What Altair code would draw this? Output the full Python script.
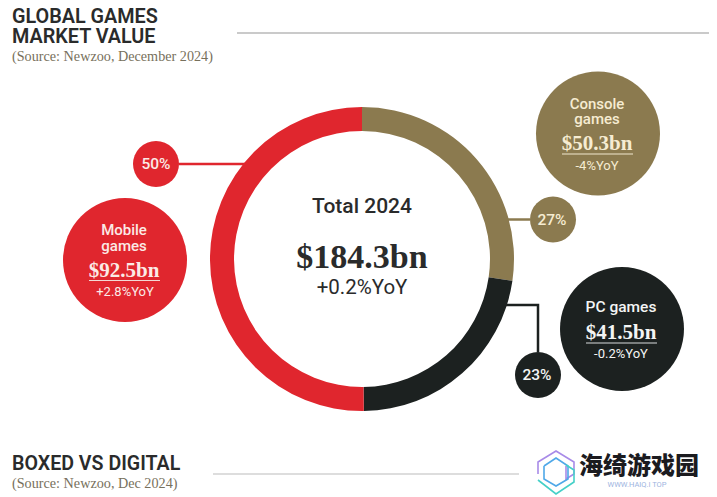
import altair as alt
import pandas as pd

FIG_W, FIG_H, M = 717, 497, 8
SANS = "Roboto"
SERIF = "Liberation Serif"
SRC = "Liberation Serif"
CJK = "Noto Sans CJK SC"

RED, GOLD, BLACK = "#e0262e", "#8b7a4f", "#1c2120"
DARK, SRC_C = "#2a2b2b", "#77705c"
ON_RED, ON_GOLD, ON_BLACK = "#fbeae6", "#f6ecd2", "#f4f5f4"

seg_names = ["Console games", "PC games", "Mobile games"]
seg_values = [50.3, 41.5, 92.5]
seg_colors = [GOLD, BLACK, RED]

circle_x = [125, 598, 622, 156, 553, 538]
circle_y = [260, 133.5, 329, 164, 219.5, 375]
circle_r = [62, 62, 62, 23, 23, 23]
circle_c = [RED, GOLD, BLACK, RED, GOLD, BLACK]

conn_id = ["a", "a", "b", "b", "c", "c", "c"]
conn_x = [179, 245, 508, 530, 505, 538, 538]
conn_y = [164, 164, 219.5, 219.5, 305, 305, 352]
conn_c = [RED, RED, GOLD, GOLD, BLACK, BLACK, BLACK]

ul_x = [89, 562, 586]
ul_x2 = [160, 633, 657]
ul_y = [280.5, 154, 343]
ul_c = ["#f3d9d5", "#f1e8d0", "#d8dcdc"]

rule_x = [237, 213]
rule_x2 = [710, 519]
rule_y = [33, 474]
rule_c = ["#b9b9b9", "#d2d2d2"]

texts = [
    ("GLOBAL GAMES", 12, 16.8, 19.8, DARK, SANS, 600, "left"),
    ("MARKET VALUE", 12, 37, 19.8, DARK, SANS, 600, "left"),
    ("(Source: Newzoo, December 2024)", 12, 57, 14.2, SRC_C, SRC, 400, "left"),
    ("BOXED VS DIGITAL", 12, 464, 19.6, DARK, SANS, 600, "left"),
    ("(Source: Newzoo, Dec 2024)", 12, 484, 14.2, SRC_C, SRC, 400, "left"),
    ("Total 2024", 362, 207, 21, DARK, SANS, 500, "center"),
    ("$184.3bn", 362, 258, 34, DARK, SERIF, 700, "center"),
    ("+0.2%YoY", 362, 287.5, 20.5, DARK, SANS, 400, "center"),
    ("Mobile", 124, 230, 15, ON_RED, SANS, 500, "center"),
    ("games", 124, 245.5, 15, ON_RED, SANS, 500, "center"),
    ("$92.5bn", 124, 271, 21, ON_RED, SERIF, 700, "center"),
    ("+2.8%YoY", 125, 292, 13, ON_RED, SANS, 400, "center"),
    ("Console", 597, 103.5, 15, ON_GOLD, SANS, 500, "center"),
    ("games", 597, 118.5, 15, ON_GOLD, SANS, 500, "center"),
    ("$50.3bn", 597, 144, 21, ON_GOLD, SERIF, 700, "center"),
    ("-4%YoY", 597, 166, 13, ON_GOLD, SANS, 400, "center"),
    ("PC games", 621, 307, 15.5, ON_BLACK, SANS, 500, "center"),
    ("$41.5bn", 621, 332.5, 21, ON_BLACK, SERIF, 700, "center"),
    ("-0.2%YoY", 621, 354, 13, ON_BLACK, SANS, 400, "center"),
    ("50%", 156, 164, 15.5, ON_RED, SANS, 500, "center"),
    ("27%", 552, 220, 15.5, ON_GOLD, SANS, 500, "center"),
    ("23%", 537, 375, 15.5, ON_BLACK, SANS, 500, "center"),
    ("海绮游戏园", 639, 467, 24, "#1b1b1f", CJK, 900, "center"),
    ("WWW.HAIQ.I TOP", 637, 485, 7.5, "#9db4e0", SANS, 400, "center"),
]

logo_id = ["p"] * 7 + ["b"] * 7 + ["t"] * 5
logo_x = [538, 538, 556, 574, 574, 566, 566,
          544, 544, 556, 568, 568, 556, 544,
          538, 556, 574, 574, 566]
logo_y = [474, 462, 451, 462, 474, 479, 466,
          466, 479, 486, 479, 466, 458, 466,
          480, 494, 482, 470, 465]
logo_c = ["#a88be8"] * 7 + ["#4fa8e8"] * 7 + ["#45d0c8"] * 5

x_s = alt.Scale(domain=[M, FIG_W - M], range=[0, FIG_W - 2 * M], nice=False, zero=False)
y_s = alt.Scale(domain=[FIG_H, M], range=[FIG_H - M, 0], nice=False, zero=False)
X = lambda f: alt.X(f, type="quantitative", scale=x_s, axis=None)
Y = lambda f: alt.Y(f, type="quantitative", scale=y_s, axis=None)

seg = pd.DataFrame({"name": seg_names, "value": seg_values, "c": seg_colors,
                    "o": [0, 1, 2], "cx": [362] * 3, "cy": [259] * 3})
ring = alt.Chart(seg).mark_arc(innerRadius=128, outerRadius=152).encode(
    theta=alt.Theta("value:Q", stack=True),
    order=alt.Order("o:Q"),
    color=alt.Color("c:N", scale=None),
    x=X("cx"), y=Y("cy"),
)

conn = pd.DataFrame({"id": conn_id, "x": conn_x, "y": conn_y, "c": conn_c, "i": range(len(conn_x))})
lines = alt.Chart(conn).mark_line(strokeWidth=2.5, strokeJoin="miter").encode(
    x=X("x"), y=Y("y"), detail="id:N", order="i:Q",
    color=alt.Color("c:N", scale=None),
)

cir = pd.DataFrame({"x": circle_x, "y": circle_y, "r": circle_r, "c": circle_c})
cir["s"] = (2 * cir["r"]) ** 2
circles = alt.Chart(cir).mark_circle(opacity=1).encode(
    x=X("x"), y=Y("y"),
    size=alt.Size("s:Q", scale=None),
    color=alt.Color("c:N", scale=None),
)

def segs(x, x2, y, c, w):
    df = pd.DataFrame({"x": x, "x2": x2, "y": y, "c": c})
    return alt.Chart(df).mark_rule(strokeWidth=w).encode(
        x=X("x"), x2="x2:Q", y=Y("y"),
        color=alt.Color("c:N", scale=None),
    )

ul = segs(ul_x, ul_x2, ul_y, ul_c, 1.2)
rules = segs(rule_x, rule_x2, rule_y, rule_c, 1.3)

logo_df = pd.DataFrame({"id": logo_id, "x": logo_x, "y": logo_y, "c": logo_c, "i": range(len(logo_x))})
logo = alt.Chart(logo_df).mark_line(strokeWidth=1.6).encode(
    x=X("x"), y=Y("y"), detail="id:N", order="i:Q",
    color=alt.Color("c:N", scale=None),
)

layers = [ring, lines, circles, ul, rules, logo]
for t, x, y, fs, col, font, w, al in texts:
    d = pd.DataFrame({"t": [t], "x": [x], "y": [y]})
    layers.append(alt.Chart(d).mark_text(fontSize=fs, color=col, font=font, fontWeight=w,
                                          align=al, baseline="middle").encode(
        x=X("x"), y=Y("y"), text="t:N"))

chart = alt.layer(*layers).resolve_scale(color="independent").properties(
    width=FIG_W - 2 * M, height=FIG_H - M, padding=0, background="white",
    autosize=alt.AutoSizeParams(type="none"),
    view=alt.ViewConfig(stroke=None),
)
chart.save("out.html", embed_options={"renderer": "svg", "actions": False})
